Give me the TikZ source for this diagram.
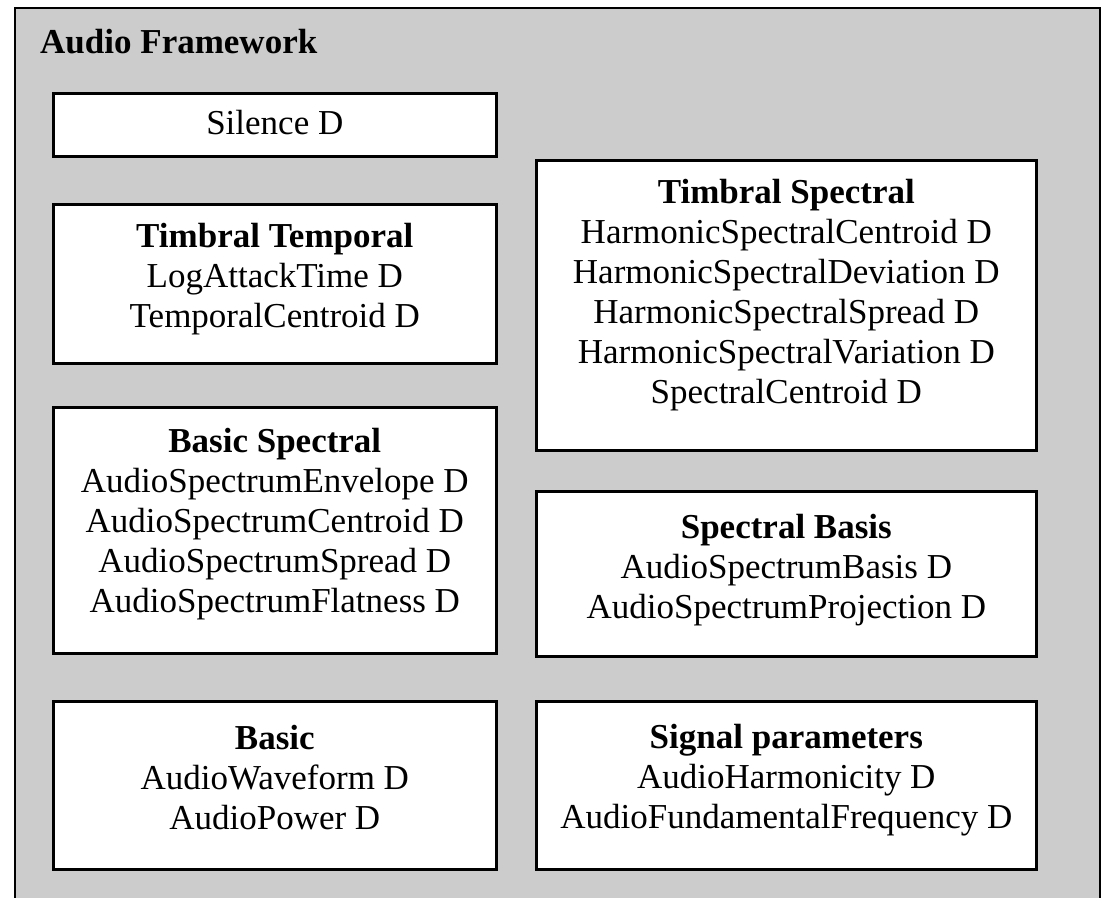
\documentclass[tikz,border=0pt]{standalone}
\usepackage{fontspec}
\setmainfont{Liberation Serif}
\usetikzlibrary{calc}

\tikzset{
  descbox/.style = {draw, line width = 2.6pt, fill = white, align = center,
    anchor = north west, inner sep = 0pt, text depth = #1,
    font = \fontsize{35}{40}\selectfont},
  descbox/.default = 8pt,
}

\begin{document}
\begin{tikzpicture}[x = 1pt, y = -1pt]
  \useasboundingbox (0, 0) rectangle (1108, 897);
  \draw[line width = 2pt, fill = black!20] (15, 8) rectangle (1100, 910);

  \node[anchor = base west, inner sep = 0pt, font = \fontsize{35}{40}\selectfont\bfseries]
    (frame) at (40, 53) {Audio Framework};

  % left column
  \node[descbox = 5pt, minimum width = 443pt, minimum height = 63pt]
    (silence) at (52, 92) {Silence D};
  \node[descbox = 16pt, minimum width = 443pt, minimum height = 159pt]
    (ttemp) at (52, 203) {\textbf{Timbral Temporal}\\ LogAttackTime D\\
    TemporalCentroid D};
  \node[descbox = 20pt, minimum width = 443pt, minimum height = 246pt]
    (bspec) at (52, 406) {\textbf{Basic Spectral}\\ AudioSpectrumEnvelope D\\
    AudioSpectrumCentroid D\\ AudioSpectrumSpread D\\ AudioSpectrumFlatness D};
  \node[descbox = 16pt, minimum width = 443pt, minimum height = 168pt]
    (basic) at (52, 700) {\textbf{Basic}\\ AudioWaveform D\\ AudioPower D};

  % right column
  \node[descbox = 28pt, minimum width = 500pt, minimum height = 290pt]
    (tspec) at (535, 159) {\textbf{Timbral Spectral}\\
    HarmonicSpectralCentroid D\\ HarmonicSpectralDeviation D\\
    HarmonicSpectralSpread D\\ HarmonicSpectralVariation D\\
    SpectralCentroid D};
  \node[descbox = 14pt, minimum width = 500pt, minimum height = 165pt]
    (sbasis) at (535, 490) {\textbf{Spectral Basis}\\ AudioSpectrumBasis D\\
    AudioSpectrumProjection D};
  \node[descbox = 18pt, minimum width = 500pt, minimum height = 168pt]
    (signal) at (535, 700) {\textbf{Signal parameters}\\ AudioHarmonicity D\\
    AudioFundamentalFrequency D};
\end{tikzpicture}
\end{document}
